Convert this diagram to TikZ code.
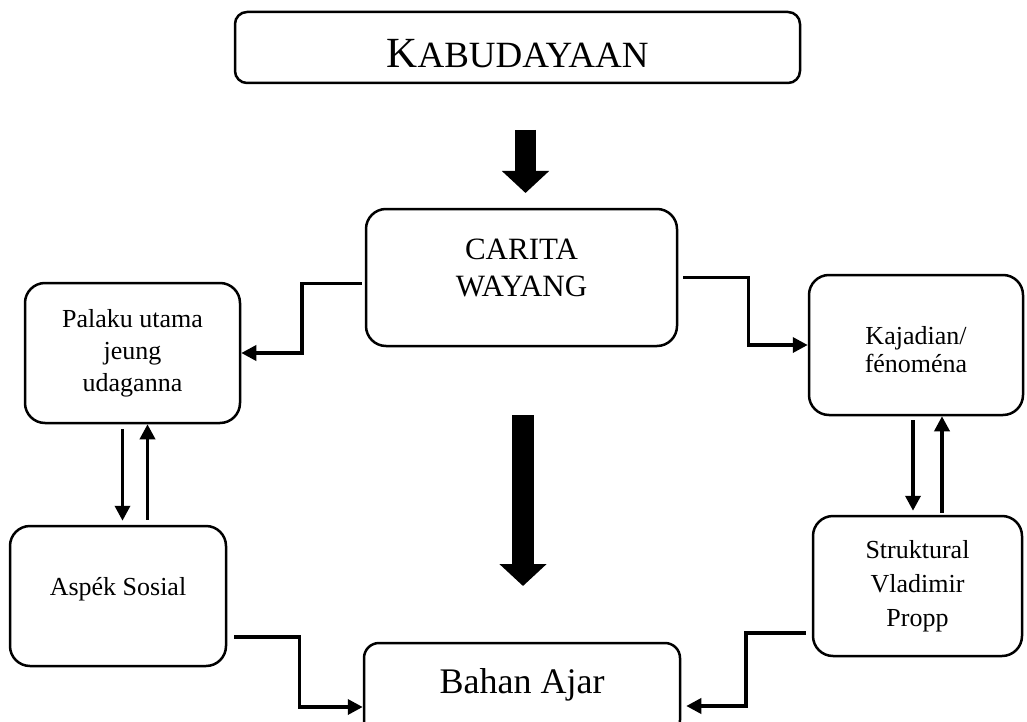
\documentclass[tikz,border=0pt]{standalone}
\usepackage{fontspec}
\setmainfont{Liberation Serif}
\usetikzlibrary{arrows.meta}

\tikzset{
  box/.style={draw, line width=2.5pt, rounded corners=20pt, align=center, inner sep=0pt,
    font=\fontsize{26}{32}\selectfont},
  conn/.style={line width=3.5pt, -{Triangle[length=15pt,width=15pt]}},
  bigarrow/.style={-{Triangle[length=22pt,width=46pt]}},
}

\begin{document}
\begin{tikzpicture}[x=1pt,y=-1pt]
\useasboundingbox (0,0) rectangle (1027,722);

% boxes
\node[box, rounded corners=12pt, minimum width=565pt, minimum height=71pt, text height=41pt, text depth=0pt] (kabudayaan) at (517.5,47.5) {\fontsize{43}{43}\selectfont K\fontsize{37}{37}\selectfont ABUDAYAAN};
\node[box, minimum width=311pt, minimum height=137pt, font=\fontsize{31}{37}\selectfont, text height=58pt, text depth=21pt] (carita) at (521.5,277.5) {CARITA\\WAYANG};
\node[box, minimum width=215pt, minimum height=140pt] (palaku) at (132.5,353) {Palaku utama\\jeung\\udaganna};
\node[box, minimum width=214pt, minimum height=140pt, font=\fontsize{26}{28}\selectfont, text height=60pt, text depth=6pt] (kajadian) at (916,345) {Kajadian/\\fénoména};
\node[box, minimum width=216pt, minimum height=140pt, text height=18pt, text depth=20pt] (aspek) at (118,596) {Aspék Sosial};
\node[box, minimum width=209pt, minimum height=140pt, font=\fontsize{26}{34}\selectfont] (struktural) at (917.5,586) {Struktural\\Vladimir\\Propp};
\node[box, rounded corners=15pt, minimum width=316pt, minimum height=92pt, font=\fontsize{36}{36}\selectfont, text height=32pt, text depth=24pt] (bahan) at (522,689) {Bahan Ajar};

% big arrows
\coordinate (top arrow start) at (525.5,130);
\coordinate (top arrow end) at (525.5,193);
\coordinate (mid arrow start) at (523,415);
\coordinate (mid arrow end) at (523,586);
\draw[bigarrow, line width=21pt] (top arrow start) -- (top arrow end);
\draw[bigarrow, line width=22pt] (mid arrow start) -- (mid arrow end);

% connectors
\draw[conn, shorten <=3pt] ([yshift=-6pt]carita.west) -- ++(-63,0) |- (palaku.east);
\draw[conn, shorten <=5pt] (carita.east) -- ++(70,0) |- (kajadian.west);

\draw[conn, shorten <=5pt, shorten >=4pt] ([xshift=-10pt]palaku.south) -- ([xshift=-10pt]palaku.south |- aspek.north);
\draw[conn, shorten <=5pt] ([xshift=15pt]palaku.south |- aspek.north) -- ([xshift=15pt]palaku.south);

\draw[conn, shorten <=4pt, shorten >=4pt] ([xshift=-3pt]kajadian.south) -- ([xshift=-3pt]kajadian.south |- struktural.north);
\draw[conn, shorten <=2pt] ([xshift=26pt]kajadian.south |- struktural.north) -- ([xshift=26pt]kajadian.south);

\draw[conn, shorten <=7pt] ([yshift=-41pt]aspek.east) -- ++(72,0) |- ([yshift=-18pt]bahan.west);
\draw[conn, shorten <=6pt, shorten >=5pt] ([yshift=-47pt]struktural.west) -- ++(-66,0) |- ([yshift=-17pt]bahan.east);

\end{tikzpicture}
\end{document}
